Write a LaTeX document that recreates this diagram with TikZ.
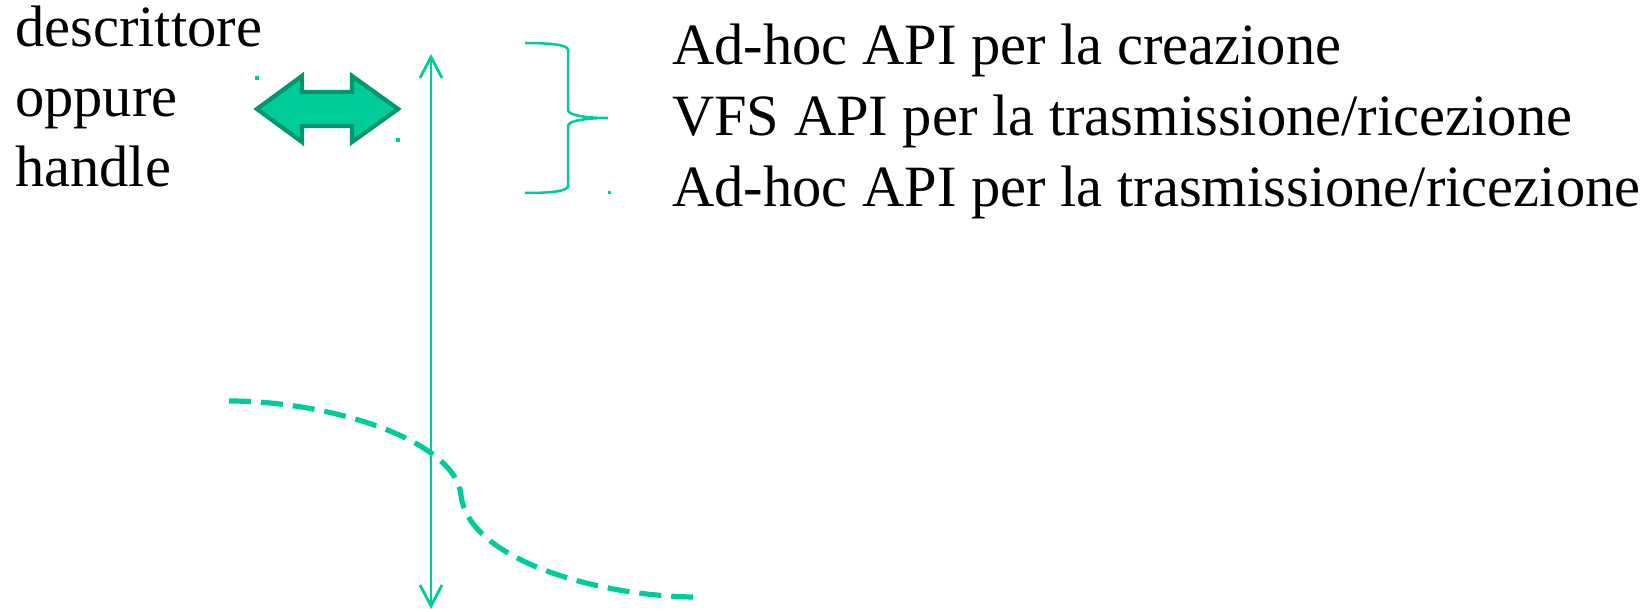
\documentclass[tikz,border=0pt]{standalone}
\usepackage{fontspec}
\setmainfont{Liberation Serif}
\usetikzlibrary{arrows.meta}
\definecolor{acqua}{RGB}{0,204,153}
\definecolor{acquadark}{RGB}{0,150,112}
\tikzset{vbarb/.tip={Straight Barb[length=21pt,width=22pt]}}
\begin{document}
\begin{tikzpicture}[x=1pt,y=-1pt,
  txt/.style={anchor=base west, inner sep=0pt, font=\fontsize{58.5}{70}\selectfont},
  dotmark/.style={fill=acqua, draw=none},
  thinline/.style={draw=acqua, line width=2.5pt}]
\useasboundingbox (0,0) rectangle (1647,612);
% left text
\node[txt] (l1) at (15,47) {descrittore};
\node[txt] (l2) at (15,117) {oppure};
\node[txt] (l3) at (15,187) {handle};
% right text
\node[txt] (r1) at (672,65) {Ad-hoc API per la creazione};
\node[txt] (r2) at (672,136) {VFS API per la trasmissione/ricezione};
\node[txt] (r3) at (672,207) {Ad-hoc API per la trasmissione/ricezione};
% double block arrow
\draw[fill=acqua, draw=acquadark, line width=4.3pt, line join=miter]
  (257,109) -- (302,76) -- (302,92) -- (352,92) -- (352,76) -- (398,109)
  -- (352,142) -- (352,126) -- (302,126) -- (302,142) -- cycle;
\fill[dotmark] (254.5,76.5) rectangle (258.5,80.5);
\fill[dotmark] (395.5,138.5) rectangle (399.5,142.5);
\fill[dotmark] (607.5,191.5) rectangle (610.5,194.5);
% vertical arrow
\coordinate (vt) at (431,54);
\coordinate (vb) at (431,609);
\draw[thinline, line width=2.8pt, vbarb-vbarb] (vt) -- (vb);
% brace
\draw[thinline]
  (525,43) .. controls (552,43) and (568,45) .. (568,50) -- (568,110)
  .. controls (568,116) and (590,118) .. (608,118)
  .. controls (590,118) and (568,120) .. (568,126) -- (568,186)
  .. controls (568,191) and (552,193) .. (525,193);
% dashed curve
\draw[draw=acqua, line width=5.2pt, dash pattern=on 22pt off 10pt]
  (229,401) .. controls (330,401) and (455,440) .. (461,495)
  .. controls (468,560) and (600,597) .. (697,597);
\end{tikzpicture}
\end{document}
